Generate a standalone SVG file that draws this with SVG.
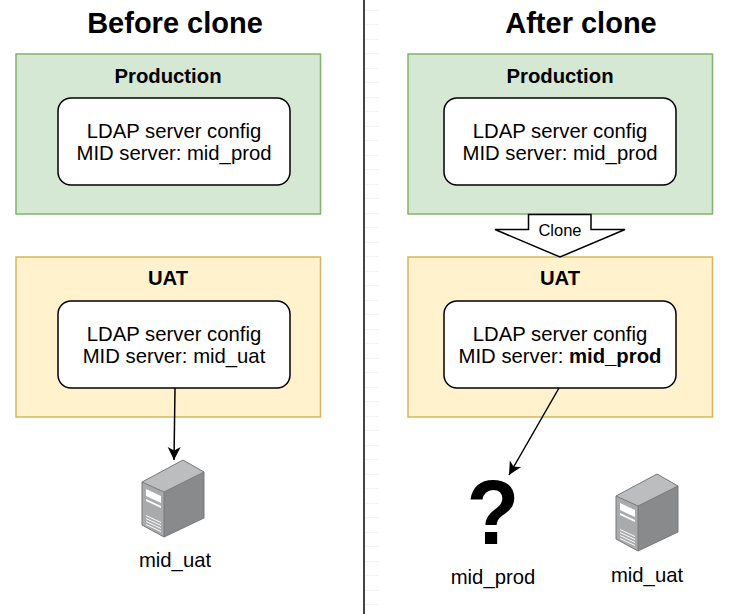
<svg xmlns="http://www.w3.org/2000/svg" width="730" height="614" viewBox="0 0 730 614">
<style>
text{font-family:"Liberation Sans",Arial,sans-serif;fill:#000;text-anchor:middle}
.t{font-size:29px;font-weight:bold}
.h{font-size:20.300px;font-weight:bold}
.l{font-size:20.300px}
.g{fill:#d5e8d4;stroke:#82b366;stroke-width:1.5}
.y{fill:#fff2cc;stroke:#d6b656;stroke-width:1.5}
.w{fill:#fff;stroke:#000;stroke-width:1.5}
.c{fill:none;stroke:#000;stroke-width:1.5}
</style>
<defs>
<marker id="a" markerUnits="userSpaceOnUse" markerWidth="16" markerHeight="16" refX="14" refY="8" orient="auto"><path d="M1 1.500L14 8L1 14.500L4.500 8Z" fill="#000"/></marker>
<g id="srv">
<path d="M142 482L183 460L204 472L164 492Z" fill="#bcbdbf"/>
<path d="M164 492L204 472V518L164 537Z" fill="#898a8c"/>
<path d="M142 482L164 492V537L142 525Z" fill="#a9aaac"/>
<path d="M142 482L183 460L204 472V518L164 537L142 525ZM142 482L164 492L204 472M164 492V537" fill="none" stroke="#77787a"/>
<path d="M146 489L161 496V503L146 496ZM146 499L161 506V508L146 501ZM146 515L161 522V523L146 516ZM146 518L161 525V526L146 519ZM146 521L161 528V529L146 522ZM146 524L161 531V532L146 525Z" fill="#fff"/>
</g>
</defs>
<rect width="730" height="614" fill="#fff"/>
<path d="M365 10.500H379M365 24.500H379M365 39.500H379M365 53.500H379M365 68.500H379M365 82.500H379M365 97.500H379M365 111.500H379M365 126.500H379M365 140.500H379M365 155.500H379M365 169.500H379M365 184.500H379M365 198.500H379M365 213.500H379M365 227.500H379M365 242.500H379M365 256.500H379M365 271.500H379M365 285.500H379M365 300.500H379M365 314.500H379M365 329.500H379M365 343.500H379M365 358.500H379M365 372.500H379M365 387.500H379M365 401.500H379M365 416.500H379M365 430.500H379M365 445.500H379M365 459.500H379M365 474.500H379M365 488.500H379M365 503.500H379M365 517.500H379M365 532.500H379M365 546.500H379M365 561.500H379M365 575.500H379M365 590.500H379M365 604.500H379" stroke="#f3f3f3" fill="none"/>
<path d="M364 0V614" stroke="#444" stroke-width="2" fill="none"/>
<g id="title-before"><text class="t" x="175" y="33">Before clone</text></g>
<g id="title-after"><text class="t" x="581" y="33">After clone</text></g>
<g id="prod-left"><rect class="g" x="16" y="54" width="304.500" height="160"/><text class="h" x="168" y="83">Production</text></g>
<g id="ldap-prod-left"><rect class="w" x="58" y="98" width="232" height="87" rx="13"/><text class="l" x="174" y="138">LDAP server config</text><text class="l" x="174" y="160">MID server: mid_prod</text></g>
<g id="uat-left"><rect class="y" x="16" y="257" width="304.500" height="160"/><text class="h" x="168" y="285">UAT</text></g>
<g id="ldap-uat-left"><rect class="w" x="58" y="301" width="232" height="87" rx="13"/><text class="l" x="174" y="341">LDAP server config</text><text class="l" x="174" y="363">MID server: mid_uat</text></g>
<g id="prod-right"><rect class="g" x="408" y="54" width="304.500" height="160"/><text class="h" x="560" y="83">Production</text></g>
<g id="ldap-prod-right"><rect class="w" x="444" y="98" width="232" height="87" rx="13"/><text class="l" x="560" y="138">LDAP server config</text><text class="l" x="560" y="160">MID server: mid_prod</text></g>
<g id="uat-right"><rect class="y" x="408" y="257" width="304.500" height="160"/><text class="h" x="560" y="285">UAT</text></g>
<g id="ldap-uat-right"><rect class="w" x="444" y="301" width="232" height="87" rx="13"/><text class="l" x="560" y="341">LDAP server config</text><text class="l" x="560" y="363">MID server: <tspan font-weight="bold">mid_prod</tspan></text></g>
<g id="clone"><path d="M528.500 214.500H591V229.500H625L560 257L495 229.500H528.500Z" fill="#fff" stroke="#000" stroke-width="1.500"/><text x="560" y="235.500" font-size="16.500">Clone</text></g>
<g id="server-left"><use href="#srv"/><text class="l" x="175" y="567">mid_uat</text></g>
<g id="unknown"><text x="493" y="544" font-size="90" font-weight="bold" transform="translate(493 0) scale(.96 1) translate(-493 0)">?</text><text class="l" x="493" y="584">mid_prod</text></g>
<g id="server-right"><use href="#srv" x="474" y="14"/><text class="l" x="647" y="582">mid_uat</text></g>
<g id="connectors">
<path class="c" d="M175 388L174 460" marker-end="url(#a)"/>
<path class="c" d="M559 388L509 475" marker-end="url(#a)"/>
</g>
</svg>
